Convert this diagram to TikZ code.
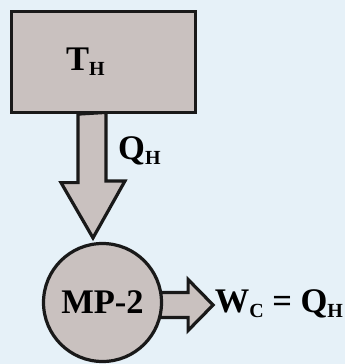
\documentclass[tikz,border=0pt]{standalone}
\usepackage{fontspec}
\setmainfont{Liberation Serif}
\usetikzlibrary{positioning}
\definecolor{bgblue}{RGB}{230,241,248}
\definecolor{reservoirgray}{RGB}{201,193,191}
\newcommand{\lowsub}[1]{\raisebox{-5.5pt}{\fontsize{20}{20}\selectfont #1}}
\pgfdeclarelayer{paper}
\pgfdeclarelayer{flows}
\pgfsetlayers{paper,flows,main}

\begin{document}
\begin{tikzpicture}[x=1pt,y=-1pt,
    body/.style={draw=black!90,line width=3.2pt,fill=reservoirgray},
    fatarrow/.style={body,line join=miter},
    bigtext/.style={font=\fontsize{34.5}{34.5}\selectfont\bfseries,inner sep=0pt}]
\begin{pgfonlayer}{paper}
\fill[bgblue] (0,0) rectangle (345,364);
\end{pgfonlayer}
% reservoir and engine
\node[body,minimum width=184pt,minimum height=101pt] (hot) at (103.5,62) {};
\node[body,bigtext,circle,minimum size=118pt] (engine) at (102.5,302.5) {MP-2};
\begin{pgfonlayer}{flows}
% heat flow down
\draw[fatarrow]
    ([xshift=-25.5pt]hot.south)
    -- ++(0,68.5) -- ++(-17,0)
    -- ([xshift=-9.5pt,yshift=4pt]engine.north)
    -- ++(32,-57) -- ++(-19,0)
    -- ++(0,-68.5) -- cycle;
% work out
\draw[fatarrow]
    ([xshift=-3pt,yshift=10pt]engine.east)
    -- ++(28,0) -- ++(0,-13)
    -- ++(25,25.5) coordinate (wtip)
    -- ++(-25,25.5) -- ++(0,-13)
    -- ++(-28,0) -- cycle;
\end{pgfonlayer}
% labels
\node[bigtext,anchor=base west] (thot) at (66,70) {T\lowsub{H}};
\node[bigtext,anchor=base west] (qhot) at (118,159) {Q\lowsub{H}};
\node[bigtext,anchor=base west] (work) at ([xshift=1.5pt,yshift=-7pt]wtip) {W\lowsub{C} = Q\lowsub{H}};
\end{tikzpicture}
\end{document}
